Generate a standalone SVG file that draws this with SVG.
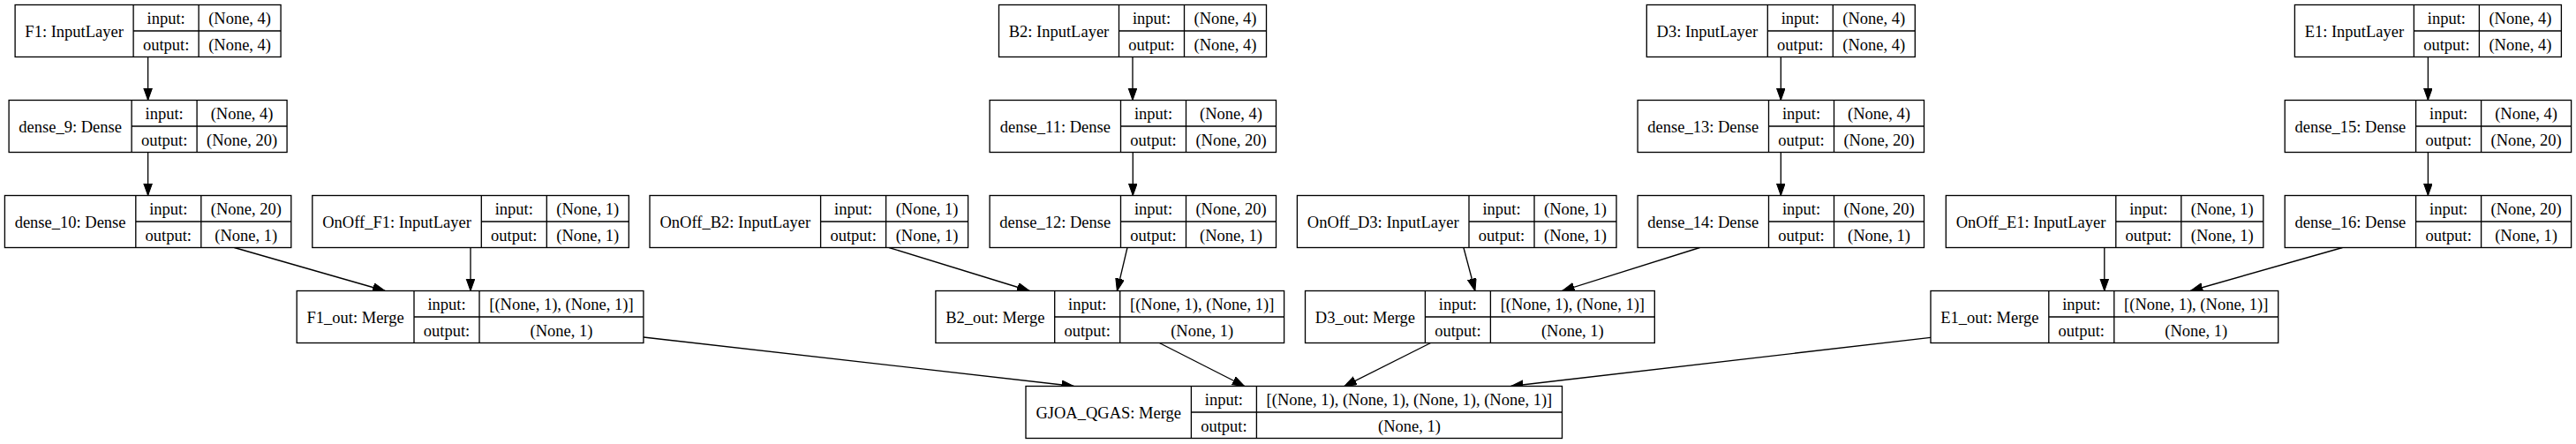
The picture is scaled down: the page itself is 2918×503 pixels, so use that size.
<svg xmlns="http://www.w3.org/2000/svg" width="2918" height="503" viewBox="0 0 2918 503">
<style>
.b{fill:#fff;stroke:#000;stroke-width:1.33}
.s{stroke:#000;stroke-width:1.33;fill:none}
.e{stroke:#000;stroke-width:1.33;fill:none;marker-end:url(#ah)}
text{font-family:"Liberation Serif","Times New Roman",serif;font-size:18.5px;text-anchor:middle;fill:#000}
</style>
<defs>
<marker id="ah" markerUnits="userSpaceOnUse" markerWidth="15" markerHeight="11" refX="14" refY="5" orient="auto">
<path d="M0,0 L14,5 L0,10 z" fill="#000" stroke="#000" stroke-width="1"/>
</marker>
</defs>
<rect width="2918" height="503" fill="#fff"/>

<g id="connectors">
<line class="e" x1="167.6" y1="64.5" x2="167.6" y2="113.5"/>
<line class="e" x1="167.6" y1="172.5" x2="167.6" y2="221.5"/>
<line class="e" x1="265.4" y1="280.5" x2="436.2" y2="329.5"/>
<line class="e" x1="533" y1="280.5" x2="533" y2="329.5"/>
<line class="e" x1="728.9" y1="382" x2="1216.5" y2="437.5"/>
<line class="e" x1="1283" y1="64.5" x2="1283" y2="113.5"/>
<line class="e" x1="1283.3" y1="172.5" x2="1283.3" y2="221.5"/>
<line class="e" x1="1007" y1="280.5" x2="1166.2" y2="329.5"/>
<line class="e" x1="1277" y1="280.5" x2="1265.4" y2="329.5"/>
<line class="e" x1="1313.3" y1="388.5" x2="1409.7" y2="437.5"/>
<line class="e" x1="2017.3" y1="64.5" x2="2017.3" y2="113.5"/>
<line class="e" x1="2017.3" y1="172.5" x2="2017.3" y2="221.5"/>
<line class="e" x1="1657.9" y1="280.5" x2="1670.9" y2="329.5"/>
<line class="e" x1="1925.5" y1="280.5" x2="1769.6" y2="329.5"/>
<line class="e" x1="1620.6" y1="388.5" x2="1522.8" y2="437.5"/>
<line class="e" x1="2750.4" y1="64.5" x2="2750.4" y2="113.5"/>
<line class="e" x1="2750.4" y1="172.5" x2="2750.4" y2="221.5"/>
<line class="e" x1="2383.8" y1="280.5" x2="2383.8" y2="329.5"/>
<line class="e" x1="2653.5" y1="280.5" x2="2481.3" y2="329.5"/>
<line class="e" x1="2187" y1="382.3" x2="1711.4" y2="437.5"/>
</g>

<!-- Row 0 -->
<g id="F1">
<rect class="b" x="17.1" y="5.5" width="301" height="59"/>
<path class="s" d="M151.1,5.5V64.5M225.1,5.5V64.5M151.1,35H318.1"/>
<text x="84.1" y="42">F1: InputLayer</text>
<text x="188.1" y="27.25">input:</text><text x="271.6" y="27.25">(None, 4)</text>
<text x="188.1" y="56.75">output:</text><text x="271.6" y="56.75">(None, 4)</text>
</g>
<g id="B2">
<rect class="b" x="1131.5" y="5.5" width="303" height="59"/>
<path class="s" d="M1267.5,5.5V64.5M1341.5,5.5V64.5M1267.5,35H1434.5"/>
<text x="1199.5" y="42">B2: InputLayer</text>
<text x="1304.5" y="27.25">input:</text><text x="1388" y="27.25">(None, 4)</text>
<text x="1304.5" y="56.75">output:</text><text x="1388" y="56.75">(None, 4)</text>
</g>
<g id="D3">
<rect class="b" x="1865.3" y="5.5" width="304" height="59"/>
<path class="s" d="M2002.3,5.5V64.5M2076.3,5.5V64.5M2002.3,35H2169.3"/>
<text x="1933.8" y="42">D3: InputLayer</text>
<text x="2039.3" y="27.25">input:</text><text x="2122.8" y="27.25">(None, 4)</text>
<text x="2039.3" y="56.75">output:</text><text x="2122.8" y="56.75">(None, 4)</text>
</g>
<g id="E1">
<rect class="b" x="2599.4" y="5.5" width="302" height="59"/>
<path class="s" d="M2734.4,5.5V64.5M2808.4,5.5V64.5M2734.4,35H2901.4"/>
<text x="2666.9" y="42">E1: InputLayer</text>
<text x="2771.4" y="27.25">input:</text><text x="2854.9" y="27.25">(None, 4)</text>
<text x="2771.4" y="56.75">output:</text><text x="2854.9" y="56.75">(None, 4)</text>
</g>

<!-- Row 1 -->
<g id="dense_9">
<rect class="b" x="10.1" y="113.5" width="315" height="59"/>
<path class="s" d="M149.1,113.5V172.5M223.1,113.5V172.5M149.1,143H325.1"/>
<text x="79.6" y="150">dense_9: Dense</text>
<text x="186.1" y="135.25">input:</text><text x="274.1" y="135.25">(None, 4)</text>
<text x="186.1" y="164.75">output:</text><text x="274.1" y="164.75">(None, 20)</text>
</g>
<g id="dense_11">
<rect class="b" x="1121.1" y="113.5" width="324.4" height="59"/>
<path class="s" d="M1269.5,113.5V172.5M1343.5,113.5V172.5M1269.5,143H1445.5"/>
<text x="1195.3" y="150">dense_11: Dense</text>
<text x="1306.5" y="135.25">input:</text><text x="1394.5" y="135.25">(None, 4)</text>
<text x="1306.5" y="164.75">output:</text><text x="1394.5" y="164.75">(None, 20)</text>
</g>
<g id="dense_13">
<rect class="b" x="1855.1" y="113.5" width="324.4" height="59"/>
<path class="s" d="M2003.5,113.5V172.5M2077.5,113.5V172.5M2003.5,143H2179.5"/>
<text x="1929.3" y="150">dense_13: Dense</text>
<text x="2040.5" y="135.25">input:</text><text x="2128.5" y="135.25">(None, 4)</text>
<text x="2040.5" y="164.75">output:</text><text x="2128.5" y="164.75">(None, 20)</text>
</g>
<g id="dense_15">
<rect class="b" x="2588.2" y="113.5" width="324.4" height="59"/>
<path class="s" d="M2736.6,113.5V172.5M2810.6,113.5V172.5M2736.6,143H2912.6"/>
<text x="2662.4" y="150">dense_15: Dense</text>
<text x="2773.6" y="135.25">input:</text><text x="2861.6" y="135.25">(None, 4)</text>
<text x="2773.6" y="164.75">output:</text><text x="2861.6" y="164.75">(None, 20)</text>
</g>

<!-- Row 2 -->
<g id="dense_10">
<rect class="b" x="5.4" y="221.5" width="324.4" height="59"/>
<path class="s" d="M153.8,221.5V280.5M227.8,221.5V280.5M153.8,251H329.8"/>
<text x="79.6" y="258">dense_10: Dense</text>
<text x="190.8" y="243.25">input:</text><text x="278.8" y="243.25">(None, 20)</text>
<text x="190.8" y="272.75">output:</text><text x="278.8" y="272.75">(None, 1)</text>
</g>
<g id="OnOff_F1">
<rect class="b" x="353.8" y="221.5" width="358.5" height="59"/>
<path class="s" d="M545.3,221.5V280.5M619.3,221.5V280.5M545.3,251H712.3"/>
<text x="449.55" y="258">OnOff_F1: InputLayer</text>
<text x="582.3" y="243.25">input:</text><text x="665.8" y="243.25">(None, 1)</text>
<text x="582.3" y="272.75">output:</text><text x="665.8" y="272.75">(None, 1)</text>
</g>
<g id="OnOff_B2">
<rect class="b" x="736" y="221.5" width="360.6" height="59"/>
<path class="s" d="M929.6,221.5V280.5M1003.6,221.5V280.5M929.6,251H1096.6"/>
<text x="832.8" y="258">OnOff_B2: InputLayer</text>
<text x="966.6" y="243.25">input:</text><text x="1050.1" y="243.25">(None, 1)</text>
<text x="966.6" y="272.75">output:</text><text x="1050.1" y="272.75">(None, 1)</text>
</g>
<g id="dense_12">
<rect class="b" x="1121.1" y="221.5" width="324.4" height="59"/>
<path class="s" d="M1269.5,221.5V280.5M1343.5,221.5V280.5M1269.5,251H1445.5"/>
<text x="1195.3" y="258">dense_12: Dense</text>
<text x="1306.5" y="243.25">input:</text><text x="1394.5" y="243.25">(None, 20)</text>
<text x="1306.5" y="272.75">output:</text><text x="1394.5" y="272.75">(None, 1)</text>
</g>
<g id="OnOff_D3">
<rect class="b" x="1469.4" y="221.5" width="361.6" height="59"/>
<path class="s" d="M1664,221.5V280.5M1738,221.5V280.5M1664,251H1831"/>
<text x="1566.7" y="258">OnOff_D3: InputLayer</text>
<text x="1701" y="243.25">input:</text><text x="1784.5" y="243.25">(None, 1)</text>
<text x="1701" y="272.75">output:</text><text x="1784.5" y="272.75">(None, 1)</text>
</g>
<g id="dense_14">
<rect class="b" x="1855.1" y="221.5" width="324.4" height="59"/>
<path class="s" d="M2003.5,221.5V280.5M2077.5,221.5V280.5M2003.5,251H2179.5"/>
<text x="1929.3" y="258">dense_14: Dense</text>
<text x="2040.5" y="243.25">input:</text><text x="2128.5" y="243.25">(None, 20)</text>
<text x="2040.5" y="272.75">output:</text><text x="2128.5" y="272.75">(None, 1)</text>
</g>
<g id="OnOff_E1">
<rect class="b" x="2204.3" y="221.5" width="359.5" height="59"/>
<path class="s" d="M2396.8,221.5V280.5M2470.8,221.5V280.5M2396.8,251H2563.8"/>
<text x="2300.55" y="258">OnOff_E1: InputLayer</text>
<text x="2433.8" y="243.25">input:</text><text x="2517.3" y="243.25">(None, 1)</text>
<text x="2433.8" y="272.75">output:</text><text x="2517.3" y="272.75">(None, 1)</text>
</g>
<g id="dense_16">
<rect class="b" x="2588.2" y="221.5" width="324.4" height="59"/>
<path class="s" d="M2736.6,221.5V280.5M2810.6,221.5V280.5M2736.6,251H2912.6"/>
<text x="2662.4" y="258">dense_16: Dense</text>
<text x="2773.6" y="243.25">input:</text><text x="2861.6" y="243.25">(None, 20)</text>
<text x="2773.6" y="272.75">output:</text><text x="2861.6" y="272.75">(None, 1)</text>
</g>

<!-- Row 3 -->
<g id="F1_out">
<rect class="b" x="336.2" y="329.5" width="392.7" height="59"/>
<path class="s" d="M469,329.5V388.5M543,329.5V388.5M469,359H728.9"/>
<text x="402.6" y="366">F1_out: Merge</text>
<text x="506" y="351.25">input:</text><text x="635.95" y="351.25">[(None, 1), (None, 1)]</text>
<text x="506" y="380.75">output:</text><text x="635.95" y="380.75">(None, 1)</text>
</g>
<g id="B2_out">
<rect class="b" x="1059.9" y="329.5" width="394.7" height="59"/>
<path class="s" d="M1194.7,329.5V388.5M1268.7,329.5V388.5M1194.7,359H1454.6"/>
<text x="1127.3" y="366">B2_out: Merge</text>
<text x="1231.7" y="351.25">input:</text><text x="1361.65" y="351.25">[(None, 1), (None, 1)]</text>
<text x="1231.7" y="380.75">output:</text><text x="1361.65" y="380.75">(None, 1)</text>
</g>
<g id="D3_out">
<rect class="b" x="1478.5" y="329.5" width="395.8" height="59"/>
<path class="s" d="M1614.4,329.5V388.5M1688.4,329.5V388.5M1614.4,359H1874.3"/>
<text x="1546.45" y="366">D3_out: Merge</text>
<text x="1651.4" y="351.25">input:</text><text x="1781.35" y="351.25">[(None, 1), (None, 1)]</text>
<text x="1651.4" y="380.75">output:</text><text x="1781.35" y="380.75">(None, 1)</text>
</g>
<g id="E1_out">
<rect class="b" x="2187" y="329.5" width="393.7" height="59"/>
<path class="s" d="M2320.8,329.5V388.5M2394.8,329.5V388.5M2320.8,359H2580.7"/>
<text x="2253.9" y="366">E1_out: Merge</text>
<text x="2357.8" y="351.25">input:</text><text x="2487.75" y="351.25">[(None, 1), (None, 1)]</text>
<text x="2357.8" y="380.75">output:</text><text x="2487.75" y="380.75">(None, 1)</text>
</g>

<!-- Row 4 -->
<g id="GJOA_QGAS">
<rect class="b" x="1162" y="437.5" width="607.5" height="59"/>
<path class="s" d="M1349.4,437.5V496.5M1423.4,437.5V496.5M1349.4,467H1769.5"/>
<text x="1255.7" y="474">GJOA_QGAS: Merge</text>
<text x="1386.4" y="459.25">input:</text><text x="1596.45" y="459.25">[(None, 1), (None, 1), (None, 1), (None, 1)]</text>
<text x="1386.4" y="488.75">output:</text><text x="1596.45" y="488.75">(None, 1)</text>
</g>
</svg>
